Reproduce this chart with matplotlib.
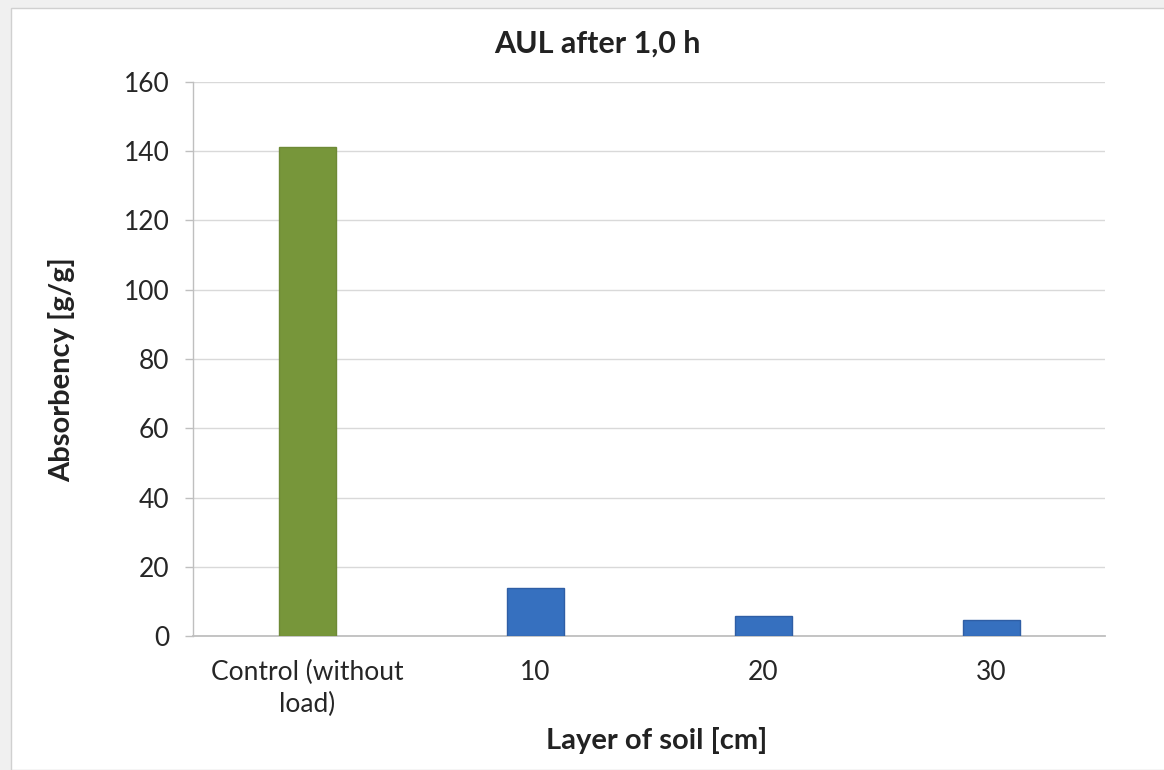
import matplotlib
matplotlib.use("Agg")
import matplotlib.pyplot as plt
from matplotlib.patches import Rectangle

categories = ["Control (without\nload)", "10", "20", "30"]
values = [141.2, 13.9, 5.8, 4.6]
colors = ["#77963A", "#3670BF", "#3670BF", "#3670BF"]
edgecolors = ["#6E8A36", "#2F5EA5", "#2F5EA5", "#2F5EA5"]
yticks = [0, 20, 40, 60, 80, 100, 120, 140, 160]

plt.rcParams['font.family'] = ['Lato', 'DejaVu Sans']

W, H = 1164, 770
fig = plt.figure(figsize=(W / 100, H / 100), dpi=100)
fig.patch.set_facecolor("#F0F0F0")
bg = Rectangle((11 / W, 0), 1.2, (H - 8) / H, transform=fig.transFigure,
               facecolor="white", edgecolor="#D0D0D0", linewidth=1, zorder=-10)
fig.patches.append(bg)

ax = fig.add_axes([193 / W, 1 - 636 / H, (1105 - 193) / W, (636 - 82) / H])
ax.set_facecolor("white")
x = range(len(categories))
ax.bar(x, values, width=0.25, color=colors, edgecolor=edgecolors, linewidth=1, zorder=3)
ax.set_xlim(-0.5, len(categories) - 0.5)
ax.set_ylim(0, 160)
ax.set_yticks(yticks)
ax.set_xticks(list(x))
ax.set_xticklabels(categories, fontsize=19, color="#262626", linespacing=1.38)
ax.tick_params(axis="y", labelsize=19, colors="#262626", length=6, width=1, color="#BFBFBF", pad=11)
ax.tick_params(axis="x", length=0, pad=17)
ax.grid(axis="y", color="#D9D9D9", linewidth=1, zorder=0)
for s in ["top", "right"]:
    ax.spines[s].set_visible(False)
ax.spines["left"].set_color("#BFBFBF")
ax.spines["bottom"].set_color("#BFBFBF")
ax.spines["left"].set_linewidth(1)
ax.spines["bottom"].set_linewidth(1.3)

fig.text(597 / W, 1 - 44 / H, "AUL after 1,0 h", ha="center", va="center",
         fontsize=22, fontweight="bold", color="#222222")
fig.text(62 / W, 1 - 370 / H, "Absorbency [g/g]", ha="center", va="center", rotation=90,
         fontsize=21, fontweight="bold", color="#222222")
fig.text(657 / W, 1 - 741 / H, "Layer of soil [cm]", ha="center", va="center",
         fontsize=21, fontweight="bold", color="#222222")

fig.savefig("out.png", dpi=100)
